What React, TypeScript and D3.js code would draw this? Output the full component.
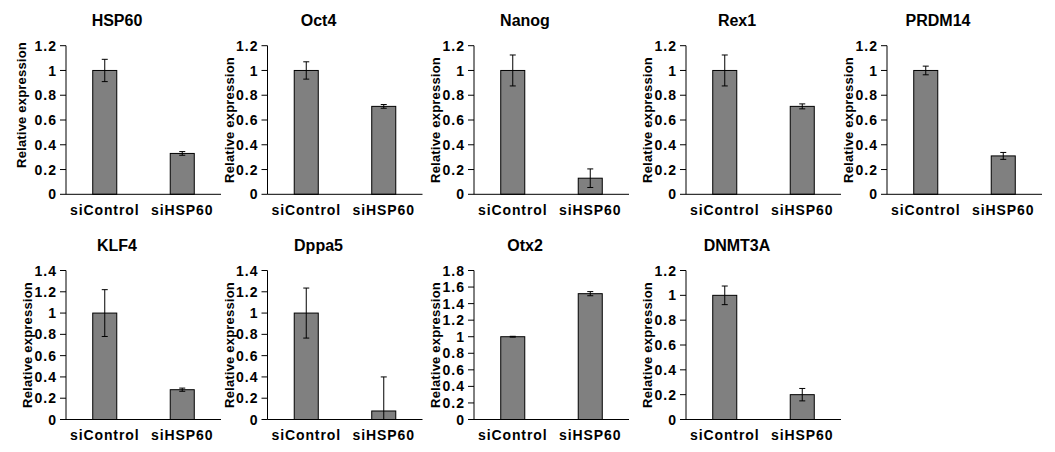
import React from "react";
import * as d3 from "d3";

const genes = ["HSP60", "Oct4", "Nanog", "Rex1", "PRDM14", "KLF4", "Dppa5", "Otx2", "DNMT3A"];
const categories = ["siControl", "siHSP60"];
const controlValues = [1, 1, 1, 1, 1, 1, 1, 1, 1];
const controlErrors = [0.09, 0.07, 0.125, 0.125, 0.035, 0.22, 0.235, 0.005, 0.075];
const knockdownValues = [0.33, 0.71, 0.13, 0.71, 0.31, 0.28, 0.08, 1.52, 0.2];
const knockdownErrors = [0.015, 0.015, 0.075, 0.02, 0.028, 0.015, 0.32, 0.025, 0.05];
const yMaxValues = [1.2, 1.2, 1.2, 1.2, 1.2, 1.4, 1.4, 1.8, 1.2];
const yTickStep = 0.2;
const yAxisTitle = "Relative expression";

// layout
const colLeft = [66, 267.5, 474, 686, 887];
const plotWidth = 155;
const rowTop = [45.7, 270.5];
const rowBottom = [194.3, 419.5];
const FONT = "'Liberation Sans', Arial, Helvetica, sans-serif";

function Panel({ idx }: { idx: number }) {
  const col = idx < 5 ? idx : idx - 5;
  const row = idx < 5 ? 0 : 1;
  const x0 = colLeft[col];
  const x1 = x0 + plotWidth;
  const top = rowTop[row];
  const bottom = rowBottom[row];
  const yMax = yMaxValues[idx];
  const y = d3.scaleLinear().domain([0, yMax]).range([bottom, top]);
  const x = d3.scaleBand<string>().domain(categories).range([x0, x1]).padding(0);
  const barW = x.bandwidth() * 0.31;
  const ticks = d3.range(0, Math.round(yMax / yTickStep) + 1).map((i) => +(i * yTickStep).toFixed(1));
  const vals = [controlValues[idx], knockdownValues[idx]];
  const errs = [controlErrors[idx], knockdownErrors[idx]];
  const labelOffset = idx === 0 ? -40 : -34;
  const labelDy = idx === 0 ? -15 : 0;
  const fmt = (v: number) => String(v);
  return (
    <g>
      <text
        x={x0 + 51}
        y={top - 20}
        textAnchor="middle"
        fontFamily={FONT}
        fontWeight="bold"
        fontSize={16}
        fill="#000"
      >
        {genes[idx]}
      </text>
      <text
        transform={`translate(${x0 + labelOffset},${(top + bottom) / 2 + labelDy}) rotate(-90)`}
        textAnchor="middle"
        fontFamily={FONT}
        fontWeight="bold"
        fontSize={13}
        letterSpacing={0.2}
        fill="#000"
      >
        {yAxisTitle}
      </text>
      {ticks.map((t) => (
        <g key={t}>
          <line x1={x0 - 6} x2={x0} y1={y(t)} y2={y(t)} stroke="#000" strokeWidth={1} />
          <text
            x={x0 - 9}
            y={y(t)}
            dy="0.36em"
            textAnchor="end"
            fontFamily={FONT}
            fontWeight="bold"
            fontSize={14}
            letterSpacing={1}
            fill="#000"
          >
            {fmt(t)}
          </text>
        </g>
      ))}
      {categories.map((c, i) => {
        const cx = (x(c) as number) + x.bandwidth() / 2;
        const v = vals[i];
        const e = errs[i];
        const yTop = y(v + e);
        const yBot = y(Math.max(0, v - e));
        return (
          <g key={c}>
            <rect
              x={cx - barW / 2}
              y={y(v)}
              width={barW}
              height={bottom - y(v)}
              fill="#808080"
              stroke="#000"
              strokeWidth={1}
            />
            <line x1={cx} x2={cx} y1={yTop} y2={yBot} stroke="#000" strokeWidth={1} />
            <line x1={cx - 3} x2={cx + 3} y1={yTop} y2={yTop} stroke="#000" strokeWidth={1} />
            {v - e > 0 && (
              <line x1={cx - 3} x2={cx + 3} y1={yBot} y2={yBot} stroke="#000" strokeWidth={1} />
            )}
            <text
              x={cx}
              y={bottom + 20.5}
              textAnchor="middle"
              fontFamily={FONT}
              fontWeight="bold"
              fontSize={14}
              letterSpacing={0.9}
              fill="#000"
            >
              {c}
            </text>
          </g>
        );
      })}
      <line x1={x0} x2={x0} y1={top} y2={bottom} stroke="#000" strokeWidth={1} />
      <line x1={x0} x2={x1} y1={bottom} y2={bottom} stroke="#000" strokeWidth={1} />
    </g>
  );
}

export default function App() {
  return (
    <svg
      width={1055}
      height={452}
      style={{ position: "absolute", left: 0, top: 0, background: "#fff" }}
    >
      <rect width={1055} height={452} fill="#fff" />
      {genes.map((g, i) => (
        <Panel key={g} idx={i} />
      ))}
    </svg>
  );
}
